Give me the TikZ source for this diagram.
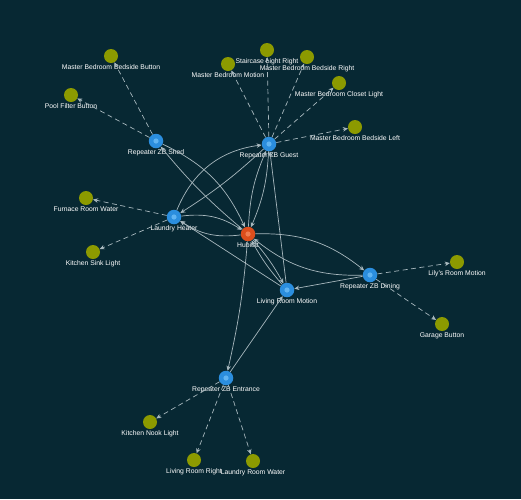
\documentclass[tikz,border=0pt]{standalone}
\usepackage{fontspec}
\setmainfont{Liberation Sans}
\usepackage{xcolor}
\usepackage{tikz}
\usetikzlibrary{positioning,arrows.meta,shapes,calc}

\definecolor{bgteal}{RGB}{7,40,51}
\definecolor{devgreen}{RGB}{140,154,0}
\definecolor{repblue}{RGB}{43,142,222}
\definecolor{repdot}{RGB}{96,180,242}
\definecolor{huborange}{RGB}{221,78,28}
\definecolor{hubdot}{RGB}{240,125,80}
\definecolor{linkgray}{RGB}{168,184,190}

\begin{document}
\begin{tikzpicture}[x=1pt,y=-1pt,
        every node/.style={font=\fontsize{6.8}{7}\selectfont},
        every label/.style={text=white,inner sep=0pt,text height=5pt,text depth=1.4pt},
        dev/.style={circle,fill=devgreen,minimum size=14pt,inner sep=0pt,
            label={[label distance=1.3pt]below:#1}},
        rep/.style={circle,fill=repblue,minimum size=14.5pt,inner sep=0pt,
            path picture={\fill[repdot] (path picture bounding box.center) circle (2.6pt);},
            label={[label distance=1.3pt]below:#1}},
        hubnode/.style={circle,fill=huborange,minimum size=14.5pt,inner sep=0pt,
            path picture={\fill[hubdot] (path picture bounding box.center) circle (2.6pt);},
            label={[label distance=1.3pt]below:#1}},
        link/.style={draw=linkgray,line width=0.7pt,-{Stealth[length=5pt,width=4.5pt]}},
        leaf/.style={link,dash pattern=on 5pt off 3.5pt}]
        \fill[bgteal] (0,0) rectangle (521,499);
        \useasboundingbox (0,0) rectangle (521,499);

        \node[hubnode=Hubitat] (hub) at (248,234) {};
        \node[rep=Repeater ZB Shed] (shed) at (156,141) {};
        \node[rep=Repeater ZB Guest] (guest) at (269,144) {};
        \node[rep=Laundry Heater] (laundry) at (174,217) {};
        \node[rep=Living Room Motion] (lrm) at (287,290) {};
        \node[rep=Repeater ZB Dining] (dining) at (370,275) {};
        \node[rep=Repeater ZB Entrance] (entrance) at (226,378) {};

        \node[dev=Master Bedroom Bedside Button] (mbbutton) at (111,56) {};
        \node[dev=Pool Filter Button] (pool) at (71,95) {};
        \node[dev=Master Bedroom Motion] (mbmotion) at (228,64) {};
        \node[dev=Staircase Light Right] (stair) at (267,50) {};
        \node[dev=Master Bedroom Bedside Right] (mbright) at (307,57) {};
        \node[dev=Master Bedroom Closet Light] (mbcloset) at (339,83) {};
        \node[dev=Master Bedroom Bedside Left] (mbleft) at (355,127) {};
        \node[dev=Furnace Room Water] (furnace) at (86,198) {};
        \node[dev=Kitchen Sink Light] (sink) at (93,252) {};
        \node[dev=Lily's Room Motion] (lily) at (457,262) {};
        \node[dev=Garage Button] (garage) at (442,324) {};
        \node[dev=Kitchen Nook Light] (nook) at (150,422) {};
        \node[dev=Living Room Right] (lrright) at (194,460) {};
        \node[dev=Laundry Room Water] (lrwater) at (253,461) {};

        \draw[link] (shed) to[bend left=20] (hub);
        \draw[link] (hub) to[bend left=5] (shed);
        \draw[link] (laundry) to[bend left=30] (guest);
        \draw[link] (guest) to[bend left=5] (laundry);
        \draw[link] (guest) to[bend left=10] (hub);
        \draw[link] (hub) to[bend left=10] (guest);
        \draw[link] (lrm) -- (guest);
        \draw[link] (laundry) to[bend left=20] (hub);
        \draw[link] (hub) to[bend left=20] (laundry);
        \draw[link] (lrm) -- (laundry);
        \draw[link] (hub) to[bend left=20] (dining);
        \draw[link] (dining) to[bend left=20] (hub);
        \draw[link] (dining) -- (lrm);
        \draw[link] (hub) to[bend left=6] (lrm);
        \draw[link] (lrm) to[bend left=6] (hub);
        \draw[link] (hub) to[bend left=4] (entrance);
        \draw[link] (entrance) -- (lrm);

        \foreach \a/\b in {shed/mbbutton,shed/pool,guest/mbmotion,guest/stair,guest/mbright,
            guest/mbcloset,guest/mbleft,laundry/furnace,laundry/sink,dining/lily,dining/garage,
            entrance/nook,entrance/lrright,entrance/lrwater}
            \draw[leaf] (\a) -- (\b);
    \end{tikzpicture}
\end{document}
